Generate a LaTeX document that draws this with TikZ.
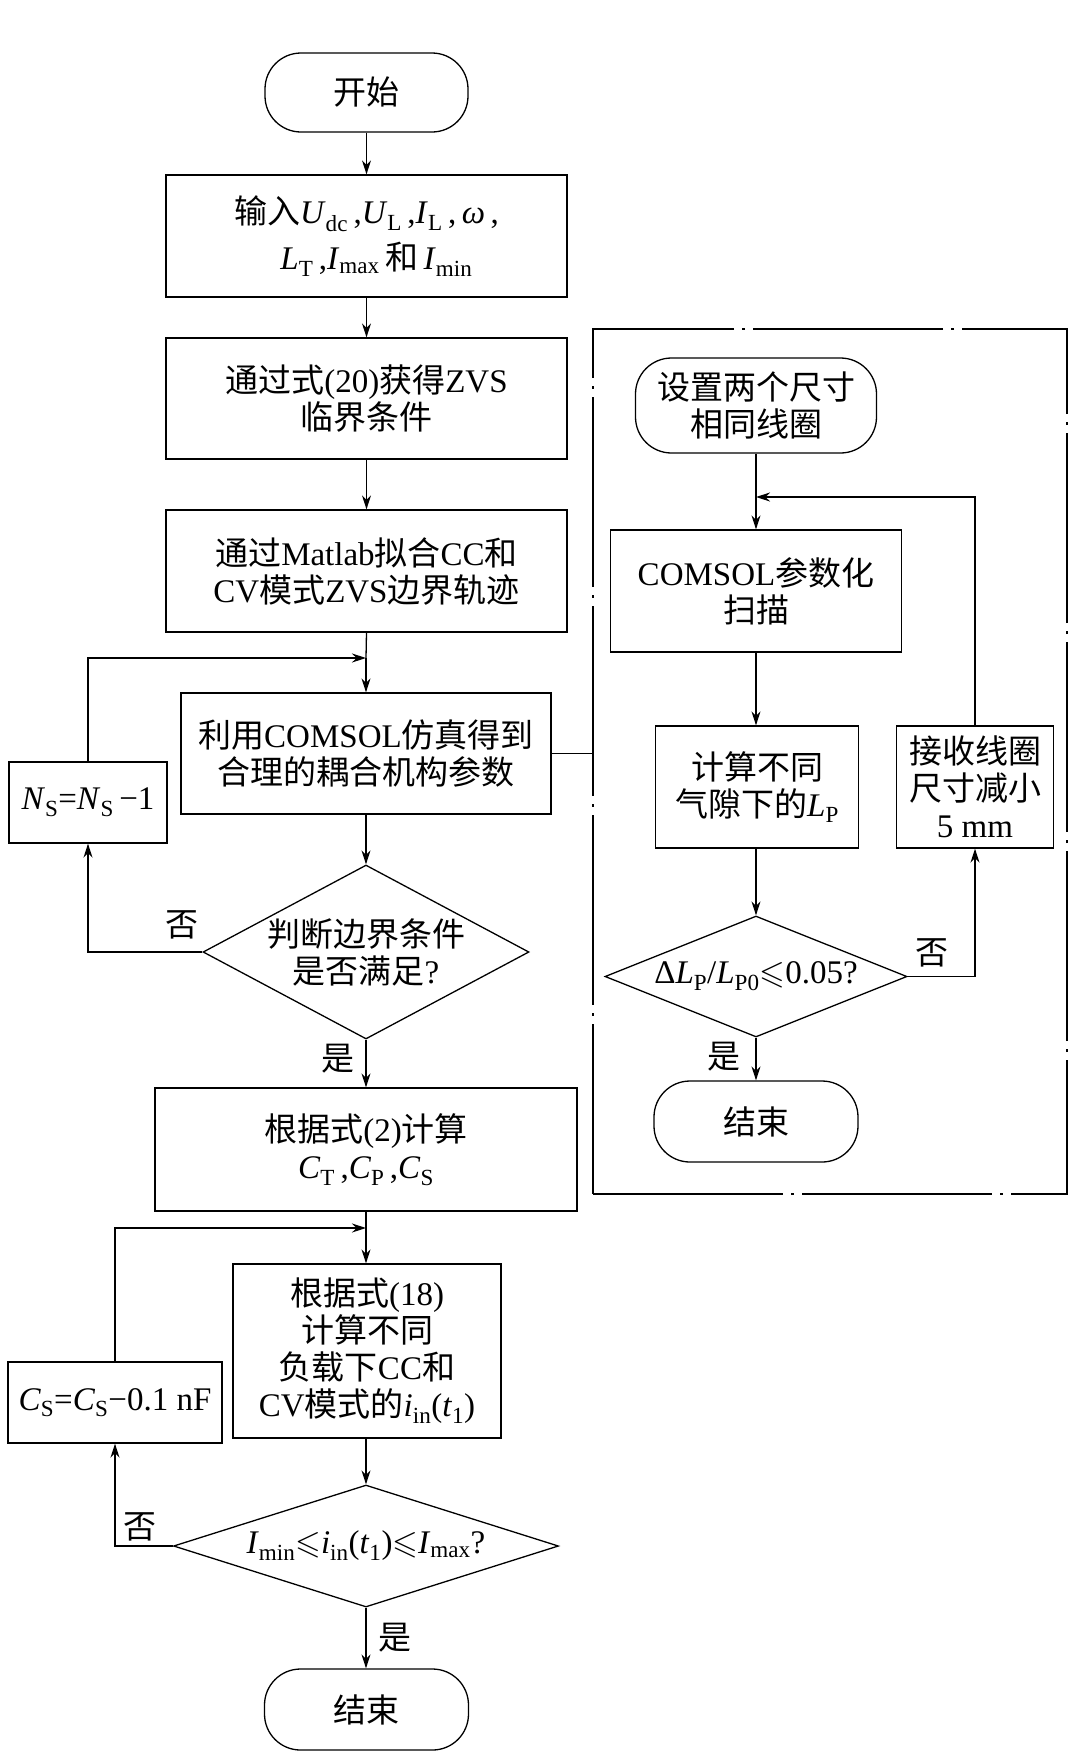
\documentclass[tikz,border=0pt]{standalone}
\usepackage{fontspec}
\usepackage{amssymb}
\setmainfont{Liberation Serif}
\newfontfamily\cjk{Noto Sans CJK SC}
\usetikzlibrary{shapes.geometric,arrows.meta}
\newcommand\zh[1]{{\cjk #1}}
\newcommand\vr[2]{\textit{#1}\textsubscript{#2}}
\begin{document}
\begin{tikzpicture}[x=1pt,y=-1pt,
  font=\fontsize{33}{37}\selectfont,
  line width=1.3pt,
  >={Stealth[length=14pt,width=9pt]},
  box/.style={draw, rectangle, inner sep=0pt, align=center},
  term/.style={draw, rectangle, rounded corners=36pt, inner sep=0pt, align=center},
  dia/.style={draw, diamond, inner sep=0pt},
  dtxt/.style={inner sep=0pt, align=center},
  lbl/.style={inner sep=0pt},
  frm/.style={draw, rectangle, inner sep=0pt, line width=1.2pt, dash pattern=on 190pt off 8pt on 3pt off 8pt}]
\useasboundingbox[fill=white] (0,0) rectangle (1071,1757);

% left column
\node[term, minimum width=203, minimum height=79] (start) at (366.5,92.5) {\zh{开始}};
\node[box, minimum width=401, minimum height=122] (in) at (366.5,236)
  {\zh{输入}\vr{U}{dc}\,,\vr{U}{L}\,,\vr{I}{L}\,,\,\textit{ω}\,,\\[9pt]\hspace*{0.6em}\vr{L}{T}\,,\vr{I}{max}\,\zh{和}\,\vr{I}{min}};
\node[box, minimum width=401, minimum height=121] (zvs) at (366.5,398.5)
  {\zh{通过式}(20)\zh{获得}ZVS\\\zh{临界条件}};
\node[box, minimum width=401, minimum height=122] (mat) at (366.5,571)
  {\zh{通过}Matlab\zh{拟合}CC\zh{和}\\CV\zh{模式}ZVS\zh{边界轨迹}};
\node[box, minimum width=370, minimum height=121] (com) at (366,753.5)
  {\zh{利用}COMSOL\zh{仿真得到}\\\zh{合理的耦合机构参数}};
\node[box, minimum width=158, minimum height=81] (ns) at (88,802.5)
  {\vr{N}{S}=\vr{N}{S}\,−1};
\node[dia, minimum width=326, minimum height=174] (d1) at (366,952) {};
\node[dtxt] (d1t) at (d1.center) {\zh{判断边界条件}\\\zh{是否满足}?};
\node[lbl] (no1) at (182,925) {\zh{否}};
\node[lbl] (yes1) at (338,1059) {\zh{是}};
\node[box, minimum width=422, minimum height=123] (calc) at (366,1149.5)
  {\zh{根据式}(2)\zh{计算}\\\vr{C}{T}\,,\vr{C}{P}\,,\vr{C}{S}};
\node[box, minimum width=268, minimum height=174] (c18) at (367,1351)
  {\zh{根据式}(18)\\\zh{计算不同}\\\zh{负载下}CC\zh{和}\\CV\zh{模式的}\vr{i}{in}(\vr{t}{1})};
\node[box, minimum width=214, minimum height=81] (cs) at (115,1402.5)
  {\vr{C}{S}=\vr{C}{S}−0.1 nF};
\node[dia, minimum width=385, minimum height=122] (d2) at (366,1546) {};
\node[dtxt] (d2t) at (d2.center) {\vr{I}{min}$\leqslant$\vr{i}{in}(\vr{t}{1})$\leqslant$\vr{I}{max}?};
\node[lbl] (no2) at (140,1527) {\zh{否}};
\node[lbl] (yes2) at (395,1638) {\zh{是}};
\node[term, minimum width=204, minimum height=81] (end) at (366.5,1709.5) {\zh{结束}};

% right frame
\node[frm, minimum width=474, minimum height=865] (frame) at (830,761.5) {};
\node[term, minimum width=241, minimum height=95] (rs) at (756,405.5)
  {\zh{设置两个尺寸}\\\zh{相同线圈}};
\node[box, minimum width=291, minimum height=122] (r1) at (756,591)
  {COMSOL\zh{参数化}\\\zh{扫描}};
\node[box, minimum width=203, minimum height=122] (r2) at (757,787)
  {\zh{计算不同}\\\zh{气隙下的}\vr{L}{P}};
\node[box, minimum width=157, minimum height=122] (r3) at (975,787)
  {\zh{接收线圈}\\\zh{尺寸减小}\\5 mm};
\node[dia, minimum width=302, minimum height=121] (dR) at (756,976.5) {};
\node[dtxt] (dRt) at (dR.center) {Δ\vr{L}{P}/\vr{L}{P0}$\leqslant$0.05?};
\node[lbl] (noR) at (932,953) {\zh{否}};
\node[lbl] (yesR) at (724,1057) {\zh{是}};
\node[term, minimum width=204, minimum height=81] (endR) at (756,1121.5) {\zh{结束}};

% coordinates
\coordinate (m1) at (366,658);
\coordinate (m2) at (366,1228);
\coordinate (m3) at (756,497);

% connectors left
\draw[->] (start.south) -- (in.north);
\draw[->] (in.south) -- (zvs.north);
\draw[->] (zvs.south) -- (mat.north);
\draw (mat.south) -- (m1);
\draw[->] (m1) -- (com.north);
\draw[->] (ns.north) |- (m1);
\draw[->] (com.south) -- (d1.north);
\draw[->] (d1.west) -| (ns.south);
\draw[->] (d1.south) -- (d1.south |- calc.north);
\draw (calc.south) -- (m2);
\draw[->] (m2) -- (m2 |- c18.north);
\draw[->] (cs.north) |- (m2);
\draw[->] (c18.south -| d2.north) -- (d2.north);
\draw[->] (d2.west) -| (cs.south);
\draw[->] (d2.south) -- (d2.south |- end.north);
\draw (com.east) -- (com.east -| frame.west);

% connectors right
\draw (rs.south) -- (m3);
\draw[->] (m3) -- (r1.north);
\draw[->] (r3.north) |- (m3);
\draw[->] (r1.south) -- (r1.south |- r2.north);
\draw[->] (r1.south |- r2.south) -- (dR.north);
\draw[->] (dR.east) -| (r3.south);
\draw[->] (dR.south) -- (endR.north);
\end{tikzpicture}
\end{document}
